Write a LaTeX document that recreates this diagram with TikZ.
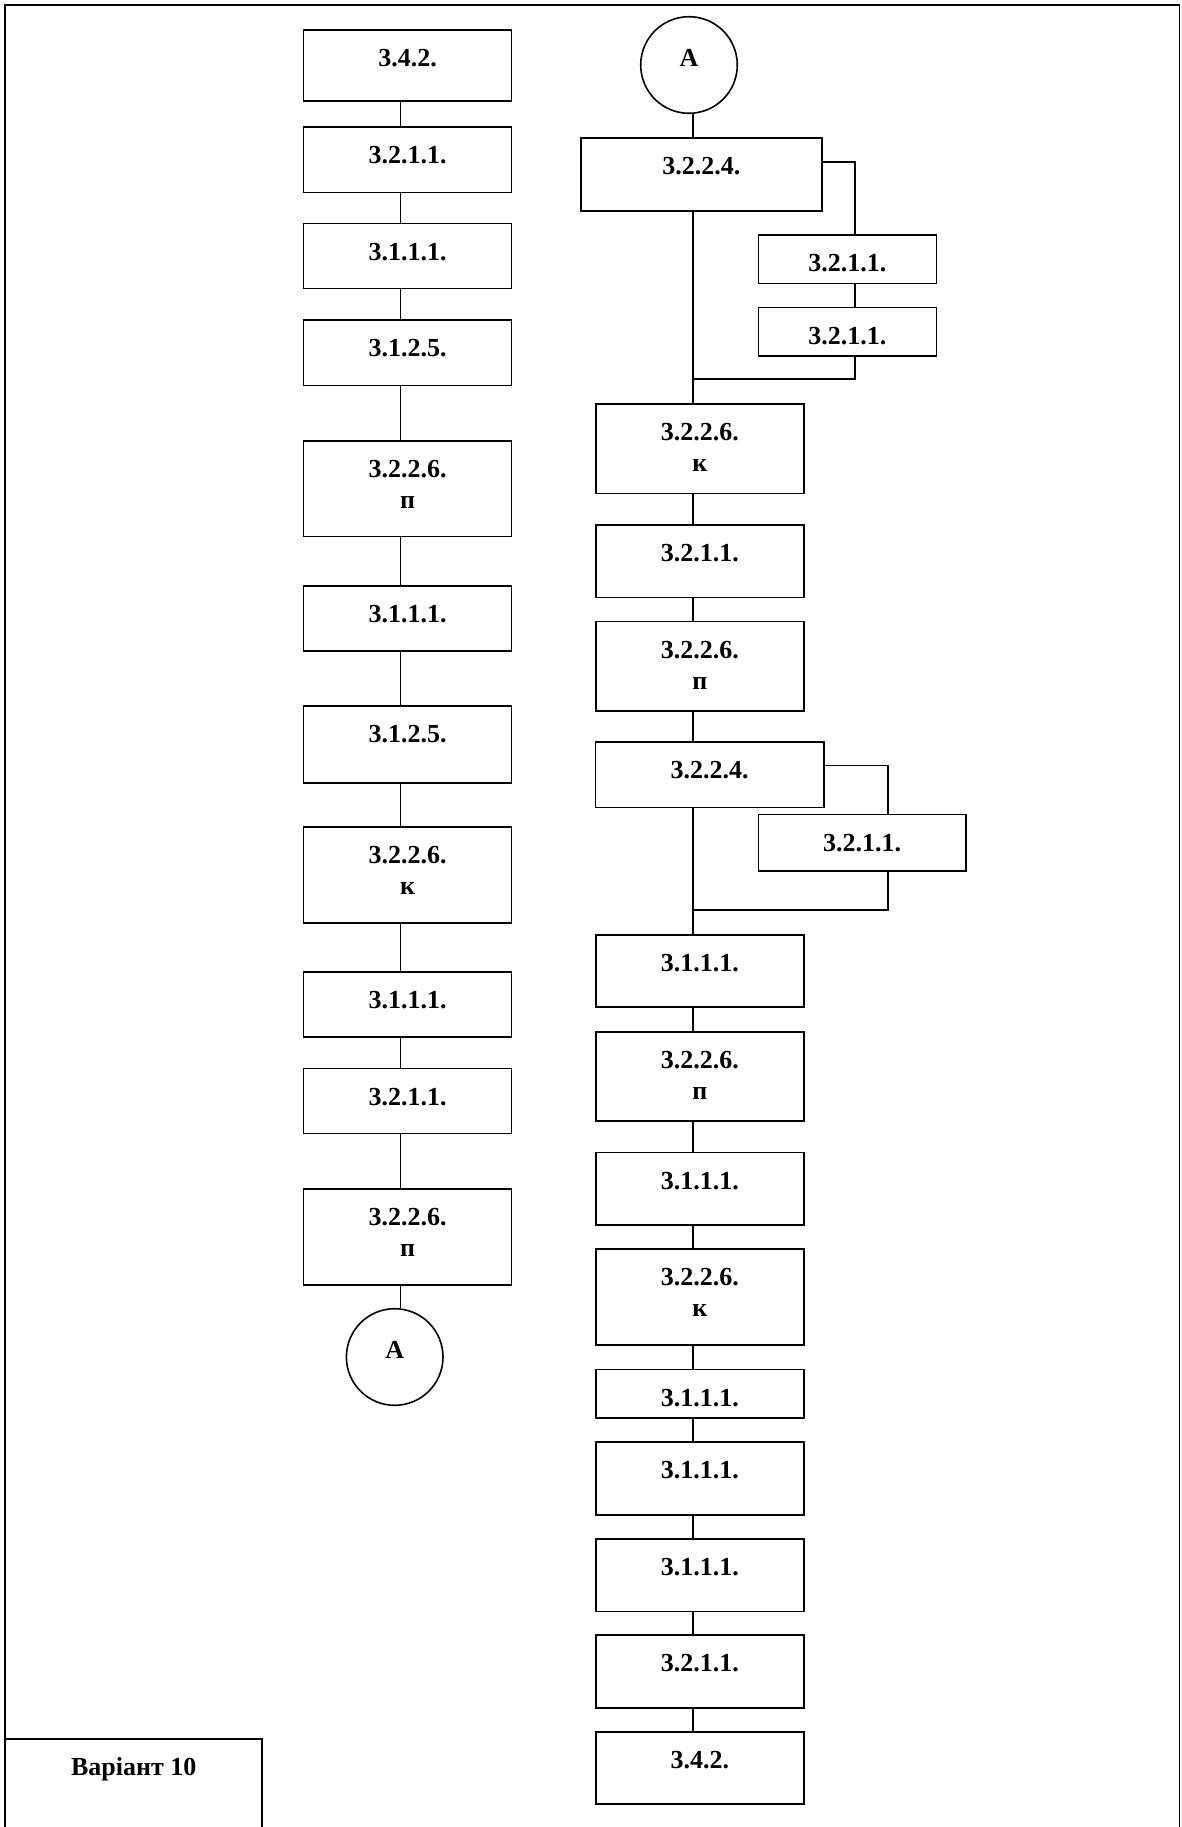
\documentclass[tikz,border=0pt]{standalone}
\usepackage{fontspec}
\setmainfont{Liberation Serif}
\newcommand\twol[2]{\vtop{\halign{\hfil##\hfil\cr#1\cr#2\cr}}}
\begin{document}
\begin{tikzpicture}[x=0.5pt,y=-0.5pt,
  every node/.style={font=\fontsize{13}{15.5}\selectfont\bfseries},
  ln/.style={line width=0.8pt},
  box/.style={draw, line width=0.8pt, rectangle, anchor=north west, inner sep=0pt, minimum width=#1, text height=18.25pt},
  circ/.style={draw, circle, line width=0.8pt, inner sep=0pt, minimum size=48.3pt, text height=10pt, text depth=8.7pt}]
\useasboundingbox (0,0) rectangle (1182,1827);
\clip (0,0) rectangle (1182,1827);
% frame
\draw[ln] (4.7,1830) -- (4.7,5) -- (1179.6,5) -- (1179.6,1830);
\node[box=128.15pt, text depth=31.75pt] (var) at (4.7,1738.3) {Варіант 10};
% column axes
\coordinate (colL) at (400.5,0);
\coordinate (colR) at (693,0);
% left column
\node[box=104pt, text depth=17.1pt]  (L1)  at (302.7,29.3)  {3.4.2.};
\node[box=104pt, text depth=14.6pt]  (L2)  at (302.7,126)   {3.2.1.1.};
\node[box=104pt, text depth=14.25pt] (L3)  at (302.7,222.7) {3.1.1.1.};
\node[box=104pt, text depth=14.6pt]  (L4)  at (302.7,319)   {3.1.2.5.};
\node[box=104pt, text depth=29.6pt]  (L5)  at (302.7,440)   {\twol{3.2.2.6.}{п}};
\node[box=104pt, text depth=14.25pt] (L6)  at (302.7,585)   {3.1.1.1.};
\node[box=104pt, text depth=20.25pt] (L7)  at (302.7,705.3) {3.1.2.5.};
\node[box=104pt, text depth=29.9pt]  (L8)  at (302.7,826)   {\twol{3.2.2.6.}{к}};
\node[box=104pt, text depth=14.4pt]  (L9)  at (302.7,971)   {3.1.1.1.};
\node[box=104pt, text depth=14.25pt] (L10) at (302.7,1067.7){3.2.1.1.};
\node[box=104pt, text depth=29.75pt] (L11) at (302.7,1188.3){\twol{3.2.2.6.}{п}};
\node[circ] (LA) at (394.7,1357) {A};
\foreach \a/\b in {L1/L2,L2/L3,L3/L4,L4/L5,L5/L6,L6/L7,L7/L8,L8/L9,L9/L10,L10/L11,L11/LA}
  \draw[ln] (\a.south -| colL) -- (\b.north -| colL);
% right column
\node[circ] (RA) at (689,65) {A};
\node[box=120.5pt, text depth=18.1pt]  (R1)  at (580,137.3)   {3.2.2.4.};
\node[box=89.05pt, text depth=5.95pt]  (S1)  at (757.6,234.3) {3.2.1.1.};
\node[box=89.05pt, text depth=5.9pt]   (S2)  at (757.6,306.7) {3.2.1.1.};
\node[box=104pt, text depth=26.45pt]   (R2)  at (595,403.3)   {\twol{3.2.2.6.}{к}};
\node[box=104pt, text depth=18.1pt]    (R3)  at (595,524)     {3.2.1.1.};
\node[box=104pt, text depth=26.4pt]    (R4)  at (595,620.7)   {\twol{3.2.2.6.}{п}};
\node[box=114.15pt, text depth=14.45pt](R5)  at (594.7,741.3) {3.2.2.4.};
\node[box=103.7pt, text depth=9.9pt]   (S3)  at (757.6,813.7) {3.2.1.1.};
\node[box=104pt, text depth=17.6pt]    (R6)  at (595,934.3)   {3.1.1.1.};
\node[box=104pt, text depth=26.25pt]   (R7)  at (595,1031)    {\twol{3.2.2.6.}{п}};
\node[box=104pt, text depth=17.9pt]    (R8)  at (595,1151.7)  {3.1.1.1.};
\node[box=104pt, text depth=29.6pt]    (R9)  at (595,1248.3)  {\twol{3.2.2.6.}{к}};
\node[box=104pt, text depth=6.05pt]    (R10) at (595,1368.7)  {3.1.1.1.};
\node[box=104pt, text depth=18.1pt]    (R11) at (595,1441.3)  {3.1.1.1.};
\node[box=104pt, text depth=17.95pt]   (R12) at (595,1538.3)  {3.1.1.1.};
\node[box=104pt, text depth=18.1pt]    (R13) at (595,1634.3)  {3.2.1.1.};
\node[box=104pt, text depth=17.9pt]    (R14) at (595,1731)    {3.4.2.};
\foreach \a/\b in {RA/R1,R1/R2,R2/R3,R3/R4,R4/R5,R5/R6,R6/R7,R7/R8,R8/R9,R9/R10,R10/R11,R11/R12,R12/R13,R13/R14}
  \draw[ln] (\a.south -| colR) -- (\b.north -| colR);
% branches
\coordinate (br1) at (855,162);
\coordinate (j1) at (693,379);
\draw[ln] (R1.east |- br1) -| (S1.north -| br1);
\draw[ln] (S1.south -| br1) -- (S2.north -| br1);
\draw[ln] (S2.south -| br1) |- (j1);
\coordinate (br2) at (887.8,765.3);
\coordinate (j2) at (693,910);
\draw[ln] (R5.east |- br2) -| (S3.north -| br2);
\draw[ln] (S3.south -| br2) |- (j2);
\end{tikzpicture}
\end{document}
